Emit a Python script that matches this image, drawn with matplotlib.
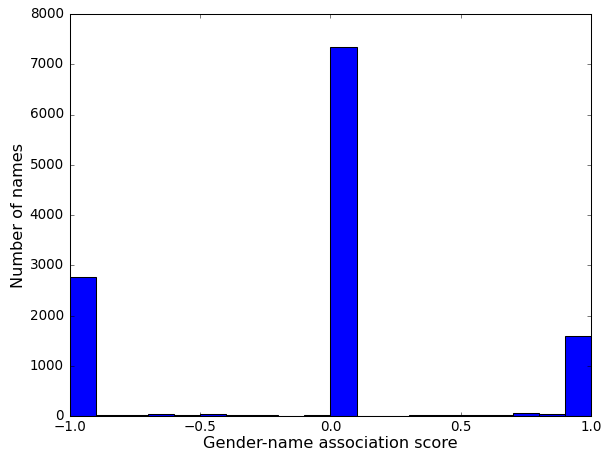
import matplotlib
matplotlib.use("Agg")
import matplotlib.pyplot as plt
import numpy as np

plt.style.use('classic')

bin_edges = [round(-1.0 + 0.1 * i, 1) for i in range(21)]
counts = [2770, 10, 10, 45, 10, 45, 10, 10, 0, 10,
          7350, 5, 5, 25, 10, 10, 25, 60, 30, 1585]

fig = plt.figure(figsize=(603 / 75, 450 / 75), dpi=75)
ax = fig.add_axes([70 / 603, 1 - 416 / 450, (591 - 70) / 603, (416 - 14) / 450])
ax.hist(bin_edges[:-1], bins=bin_edges, weights=counts, color='blue', edgecolor='black')
ax.set_xlim(-1.0, 1.0)
ax.set_ylim(0, 8000)
ax.tick_params(labelsize=13)
ax.tick_params(axis='y', pad=6)
ax.set_xlabel('Gender-name association score', fontsize=15.5, labelpad=1.5)
ax.set_ylabel('Number of names', fontsize=15.5, labelpad=3)
fig.savefig('out.png', dpi=75)
